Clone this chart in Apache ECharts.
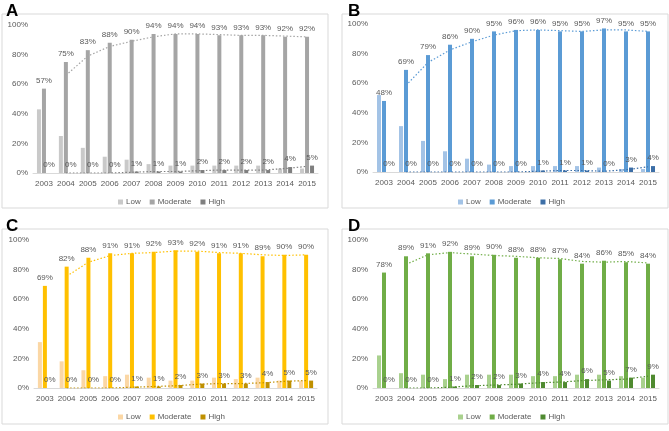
<!DOCTYPE html>
<html>
<head>
<meta charset="utf-8">
<script src="https://cdn.jsdelivr.net/npm/echarts@6/dist/echarts.min.js"></script>
<style>
  html, body { margin: 0; padding: 0; background: #fff; }
  .panel { position: absolute; }
</style>
</head>
<body>
<div id="chartA" class="panel" style="left:0;top:0;width:335px;height:215px"></div>
<div id="chartB" class="panel" style="left:335px;top:0;width:334px;height:215px"></div>
<div id="chartC" class="panel" style="left:0;top:215px;width:335px;height:216px"></div>
<div id="chartD" class="panel" style="left:335px;top:215px;width:334px;height:216px"></div>
<script>
var years = ['2003', '2004', '2005', '2006', '2007', '2008', '2009', '2010', '2011', '2012', '2013', '2014', '2015'];
var seriesNames = ['Low', 'Moderate', 'High'];

// panel A
var aLow      = [43, 25, 17, 11, 9, 6, 5, 5, 5, 5, 5, 3, 3];
var aModerate = [57, 75, 83, 88, 90, 94, 94, 94, 93, 93, 93, 92, 92];
var aHigh     = [0, 0, 0, 0, 1, 1, 1, 2, 2, 2, 2, 4, 5];
// panel B
var bLow      = [52, 31, 21, 14, 9, 5, 4, 4, 4, 4, 3, 2, 2];
var bModerate = [48, 69, 79, 86, 90, 95, 96, 96, 95, 95, 97, 95, 95];
var bHigh     = [0, 0, 0, 0, 0, 0, 0, 1, 1, 1, 0, 3, 4];
// panel C
var cLow      = [31, 18, 12, 8, 9, 7, 5, 5, 7, 6, 7, 5, 5];
var cModerate = [69, 82, 88, 91, 91, 92, 93, 92, 91, 91, 89, 90, 90];
var cHigh     = [0, 0, 0, 0, 1, 1, 2, 3, 3, 3, 4, 5, 5];
// panel D
var dLow      = [22, 10, 9, 6, 9, 9, 9, 8, 8, 9, 9, 8, 7];
var dModerate = [78, 89, 91, 92, 89, 90, 88, 88, 87, 84, 86, 85, 84];
var dHigh     = [0, 0, 0, 1, 2, 2, 3, 4, 4, 6, 5, 7, 9];

var FONT = 'Liberation Sans';
var TEXT = '#595959';

// 2-period moving average trendline (as drawn by the spreadsheet)
function movingAverage (vals) {
    var out = [null];
    for (var i = 1; i < vals.length; i++) {
        out.push((vals[i - 1] + vals[i]) / 2);
    }
    return out;
}

function drawPanel (id, letter, low, moderate, high, colors, lay) {
    var chart = echarts.init(document.getElementById(id), null, {renderer: 'canvas'});
    var barLabel = {
        show: true,
        position: 'top',
        distance: 4,
        formatter: '{c}%',
        color: TEXT,
        fontSize: 8,
        fontFamily: FONT
    };
    chart.setOption({
        animation: false,
        color: colors,
        title: {
            text: letter,
            left: lay.titleLeft,
            top: -2,
            textStyle: {fontSize: 17, fontWeight: 'bold', color: '#000', fontFamily: FONT}
        },
        graphic: [{
            type: 'rect',
            shape: lay.box,
            style: {fill: 'none', stroke: '#d9d9d9', lineWidth: 1},
            silent: true
        }],
        legend: {
            data: seriesNames,
            left: lay.legendLeft,
            top: lay.legendTop,
            padding: 0,
            itemWidth: 5,
            itemHeight: 5,
            itemGap: 9,
            icon: 'rect',
            textStyle: {fontSize: 8, color: TEXT, fontFamily: FONT, padding: [0, 0, 0, -2]}
        },
        grid: lay.grid,
        xAxis: {
            type: 'category',
            data: years,
            axisTick: {show: false},
            axisLine: {lineStyle: {color: '#d9d9d9'}},
            axisLabel: {color: TEXT, fontSize: 8, fontFamily: FONT, margin: 7, interval: 0}
        },
        yAxis: {
            type: 'value',
            min: 0,
            max: 100,
            interval: 20,
            splitLine: {show: false},
            axisLabel: {formatter: '{value}%', color: TEXT, fontSize: 8, fontFamily: FONT, margin: 5}
        },
        series: [
            {name: 'Low', type: 'bar', data: low, barWidth: 4, barGap: '25%'},
            {name: 'Moderate', type: 'bar', data: moderate, barWidth: 4, barGap: '25%', label: barLabel},
            {name: 'High', type: 'bar', data: high, barWidth: 4, barGap: '25%', label: barLabel},
            {
                name: 'Moderate trend', type: 'line', data: movingAverage(moderate),
                symbol: 'none', silent: true, z: 3,
                lineStyle: {color: colors[1], width: 1.2, type: [1.5, 2]}
            },
            {
                name: 'High trend', type: 'line', data: movingAverage(high),
                symbol: 'none', silent: true, z: 3,
                lineStyle: {color: colors[2], width: 1.2, type: [1.5, 2]}
            }
        ]
    });
    return chart;
}

drawPanel('chartA', 'A', aLow, aModerate, aHigh, ['#c9c9c9', '#a5a5a5', '#7f7f7f'], {
    titleLeft: 1, box: {x: 2, y: 14, width: 326, height: 194},
    grid: {left: 33, right: 17, top: 25, bottom: 42},
    legendLeft: 118, legendTop: 198
});
drawPanel('chartB', 'B', bLow, bModerate, bHigh, ['#a3c3e6', '#5b9bd5', '#3c6ea6'], {
    titleLeft: 8, box: {x: 7, y: 14, width: 326, height: 194},
    grid: {left: 38, right: 10, top: 24, bottom: 43},
    legendLeft: 123, legendTop: 198
});
drawPanel('chartC', 'C', cLow, cModerate, cHigh, ['#fbd7a5', '#ffc000', '#bf9000'], {
    titleLeft: 1, box: {x: 2, y: 14, width: 326, height: 195},
    grid: {left: 34, right: 18, top: 25, bottom: 43},
    legendLeft: 118, legendTop: 198
});
drawPanel('chartD', 'D', dLow, dModerate, dHigh, ['#a9d18e', '#70ad47', '#4f8a30'], {
    titleLeft: 8, box: {x: 7, y: 14, width: 326, height: 195},
    grid: {left: 38, right: 10, top: 25, bottom: 43},
    legendLeft: 123, legendTop: 198
});
</script>
</body>
</html>
